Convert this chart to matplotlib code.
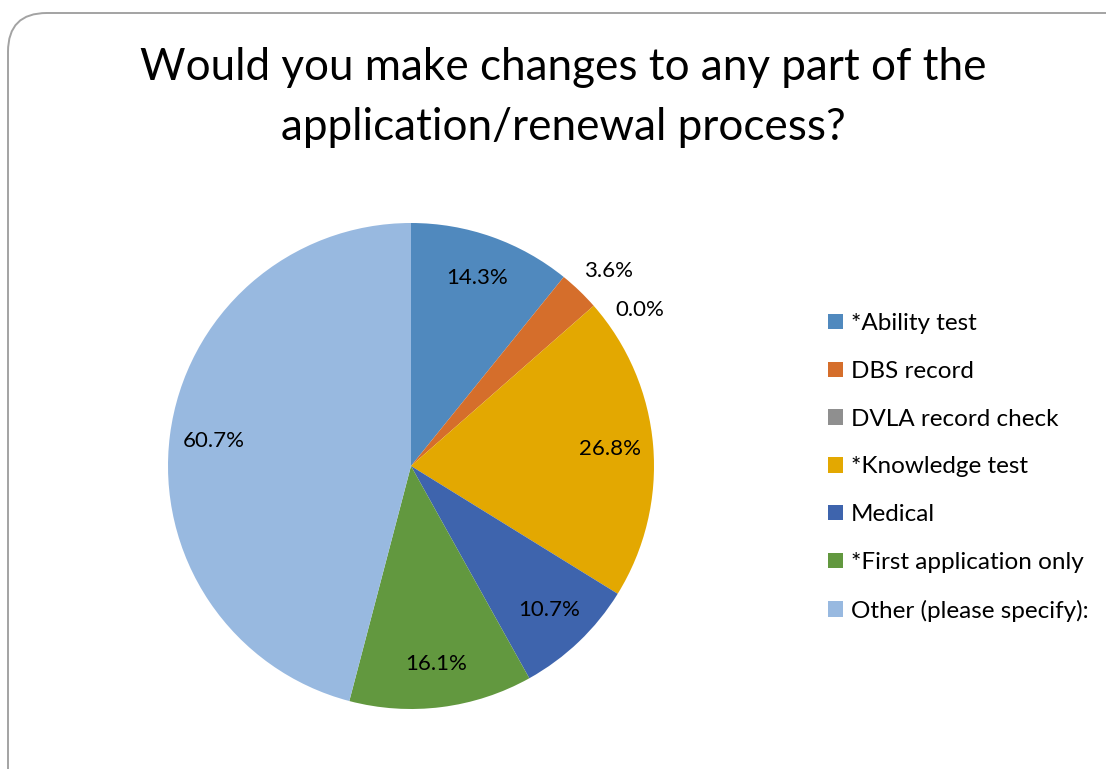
import matplotlib.pyplot as plt
import numpy as np
from matplotlib.patches import FancyBboxPatch

plt.rcParams["font.family"] = ["Lato", "DejaVu Sans"]

title_lines = ["Would you make changes to any part of the",
               "application/renewal process?"]
categories = [
    "*Ability test",
    "DBS record",
    "DVLA record check",
    "*Knowledge test",
    "Medical",
    "*First application only",
    "Other (please specify):",
]
percent = [14.3, 3.6, 0.0, 26.8, 10.7, 16.1, 60.7]
colors = ["#5089be", "#d56e2b", "#8f8f8f", "#e3a801", "#3e64ad", "#62983f", "#98b9e0"]

W, H = 1106, 769
fig = plt.figure(figsize=(W / 100, H / 100), dpi=100)

# rounded chart frame, partly running off the right and bottom edges
frame = FancyBboxPatch(
    (8 / W, -40 / H), (W + 40) / W, (H + 40 - 13) / H,
    boxstyle="round,pad=0,rounding_size=0.035",
    transform=fig.transFigure, facecolor="none", edgecolor="#a3a3a3",
    linewidth=1.4, mutation_aspect=W / H, zorder=-1,
)
fig.patches.append(frame)

for k, line in enumerate(title_lines):
    fig.text(563 / W, 1 - (68 + 60 * k) / H, line, ha="center", va="center",
             fontsize=31.7)

cx, cy, r = 411, 466, 243
ax = fig.add_axes([(cx - r) / W, (H - cy - r) / H, 2 * r / W, 2 * r / H])

wedges, _ = ax.pie(percent, colors=colors, startangle=90, counterclock=False,
                   radius=1, wedgeprops=dict(linewidth=0))
ax.set_xlim(-1, 1)
ax.set_ylim(-1, 1)
ax.set_aspect("equal")
ax.axis("off")

# value labels: inside for big slices, just outside for tiny ones
for w, v in zip(wedges, percent):
    mid = np.deg2rad((w.theta1 + w.theta2) / 2)
    if v / sum(percent) < 0.05:
        dist = 1.14
        mid -= np.deg2rad(7 if v == 0 else 1.5)
    else:
        dist = 0.82
    ax.text(dist * np.cos(mid), dist * np.sin(mid), f"{v:.1f}%",
            ha="center", va="center", fontsize=16, clip_on=False)

leg = fig.legend(wedges, categories, loc="upper left",
                 bbox_to_anchor=(816 / W, 1 - 301 / H), frameon=False,
                 fontsize=17.5, handlelength=0.6, handleheight=0.6,
                 handletextpad=0.35, labelspacing=1.1, borderpad=0)

fig.savefig("out.png", dpi=100, facecolor="white")
